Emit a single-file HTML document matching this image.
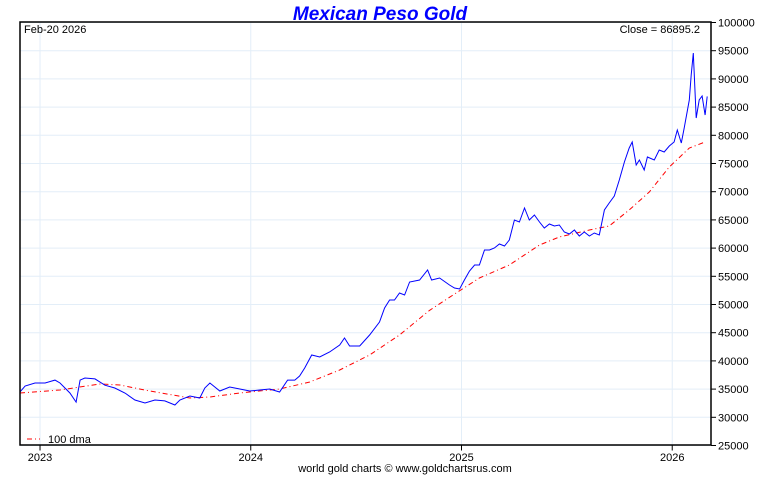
<!DOCTYPE html>
<html><head><meta charset="utf-8"><style>
body{margin:0;background:#fff;width:760px;height:475px;overflow:hidden;font-family:"Liberation Sans",sans-serif}
</style></head><body>
<svg id="chart" width="760" height="475" font-family="Liberation Sans, sans-serif">
<text x="380" y="20" text-anchor="middle" font-size="19" font-weight="bold" font-style="italic" fill="#0000ff">Mexican Peso Gold</text>
<g id="grid"></g>
<g id="yaxis"></g>
<g id="xaxis"></g>
<polyline id="dma" fill="none" stroke="#ff0000" stroke-width="1" stroke-dasharray="5,3,1,3"/>
<polyline id="price" fill="none" stroke="#0000ff" stroke-width="1"/>
<rect x="20" y="22" width="691" height="423" fill="none" stroke="#000" stroke-width="1.5"/>
<text x="24" y="33" font-size="11">Feb-20  2026</text>
<text x="700" y="33" font-size="11" text-anchor="end">Close = 86895.2</text>
<line x1="27" y1="439" x2="40" y2="439" stroke="#ff0000" stroke-dasharray="5,3,1,3"/>
<text x="48" y="443" font-size="11">100 dma</text>
<text x="405" y="472" font-size="11" text-anchor="middle">world gold charts © www.goldchartsrus.com</text>
</svg>
<script>
const yTicks=[25000,30000,35000,40000,45000,50000,55000,60000,65000,70000,75000,80000,85000,90000,95000,100000];
const xTicks=[2023,2024,2025,2026];
const priceDates=[2022.905,2022.929,2022.976,2023.024,2023.071,2023.095,2023.142,2023.171,2023.190,2023.213,2023.261,2023.308,2023.355,2023.403,2023.450,2023.498,2023.545,2023.592,2023.640,2023.664,2023.711,2023.758,2023.782,2023.806,2023.853,2023.900,2023.948,2023.995,2024.043,2024.090,2024.137,2024.175,2024.209,2024.232,2024.256,2024.289,2024.327,2024.374,2024.422,2024.445,2024.469,2024.517,2024.564,2024.611,2024.635,2024.659,2024.682,2024.706,2024.730,2024.754,2024.801,2024.839,2024.858,2024.896,2024.943,2024.967,2024.991,2025.014,2025.038,2025.062,2025.085,2025.109,2025.133,2025.156,2025.180,2025.204,2025.227,2025.251,2025.275,2025.299,2025.322,2025.346,2025.370,2025.393,2025.417,2025.441,2025.464,2025.488,2025.512,2025.536,2025.559,2025.583,2025.607,2025.630,2025.654,2025.678,2025.701,2025.725,2025.749,2025.773,2025.796,2025.810,2025.829,2025.844,2025.867,2025.882,2025.915,2025.938,2025.962,2025.986,2026.009,2026.024,2026.043,2026.057,2026.081,2026.090,2026.100,2026.114,2026.128,2026.142,2026.156,2026.166];
const priceValues=[34500,35550,36080,36080,36600,36080,34300,32700,36600,36970,36800,35700,35200,34300,33070,32540,33070,32900,32180,33070,33780,33420,35200,36080,34660,35370,35020,34660,34840,35020,34490,36600,36600,37320,38740,41050,40690,41580,42820,44060,42640,42640,44590,46900,49380,50800,50800,52040,51690,53990,54350,56120,54350,54700,53460,52930,52750,54350,55940,57000,57000,59660,59660,60020,60730,60370,61440,64980,64630,67110,64980,65870,64630,63560,64270,63920,64100,62860,62500,63210,62150,62860,62150,62680,62320,66760,68000,69240,72080,75270,77750,78810,74730,75620,73850,76150,75620,77390,77040,78100,78810,80940,78630,81300,86260,90690,94590,83070,86260,86970,83600,86900];
const dmaDates=[2022.905,2023.095,2023.284,2023.379,2023.521,2023.711,2023.806,2023.948,2024.137,2024.280,2024.422,2024.564,2024.706,2024.848,2024.943,2025.085,2025.227,2025.370,2025.464,2025.607,2025.701,2025.796,2025.891,2025.986,2026.081,2026.156];
const dmaValues=[34310,34840,35900,35730,34660,33420,33600,34310,35020,36260,38390,41050,44590,48960,51280,54700,57000,60550,61970,63210,63920,66760,69950,74380,77750,78810];
const X0=20,X1=711,Y0=22.5,Y1=445.5;
const tMin=2022.905,tMax=2026.184;
function sx(t){return X0+(t-tMin)/(tMax-tMin)*(X1-X0);}
function sy(v){return Y1-(v-25000)/(100000-25000)*(Y1-Y0);}
const NS="http://www.w3.org/2000/svg";
const grid=document.getElementById('grid'),ya=document.getElementById('yaxis'),xa=document.getElementById('xaxis');
yTicks.forEach(v=>{
 const y=sy(v);
 const g=document.createElementNS(NS,'line');
 
 
 g.setAttribute('x1',X0);g.setAttribute('x2',X1);g.setAttribute('y1',y);g.setAttribute('y2',y);
 g.setAttribute('stroke','#e3eef8');grid.appendChild(g);
 const tk=document.createElementNS(NS,'line');
 
 
 tk.setAttribute('x1',X1);tk.setAttribute('x2',X1+5);tk.setAttribute('y1',y);tk.setAttribute('y2',y);tk.setAttribute('stroke','#000');ya.appendChild(tk);
 const t=document.createElementNS(NS,'text');
 
 
 t.setAttribute('x',718);t.setAttribute('y',y+4);t.setAttribute('font-size','11');t.textContent=v;ya.appendChild(t);
});
xTicks.forEach(v=>{
 const x=sx(v);
 const g=document.createElementNS(NS,'line');
 
 
 g.setAttribute('x1',x);g.setAttribute('x2',x);g.setAttribute('y1',Y0);g.setAttribute('y2',Y1);
 g.setAttribute('stroke','#e3eef8');grid.appendChild(g);
 const tk=document.createElementNS(NS,'line');
 
 
 tk.setAttribute('x1',x);tk.setAttribute('x2',x);tk.setAttribute('y1',Y1);tk.setAttribute('y2',Y1+5);tk.setAttribute('stroke','#000');xa.appendChild(tk);
 const t=document.createElementNS(NS,'text');
 
 
 t.setAttribute('x',x);t.setAttribute('y',461);t.setAttribute('font-size','11');t.setAttribute('text-anchor','middle');t.textContent=v;xa.appendChild(t);
});
document.getElementById('price').setAttribute('points',priceDates.map((d,i)=>sx(d).toFixed(1)+','+sy(priceValues[i]).toFixed(1)).join(' '));
document.getElementById('dma').setAttribute('points',dmaDates.map((d,i)=>sx(d).toFixed(1)+','+sy(dmaValues[i]).toFixed(1)).join(' '));
</script>
</body></html>
